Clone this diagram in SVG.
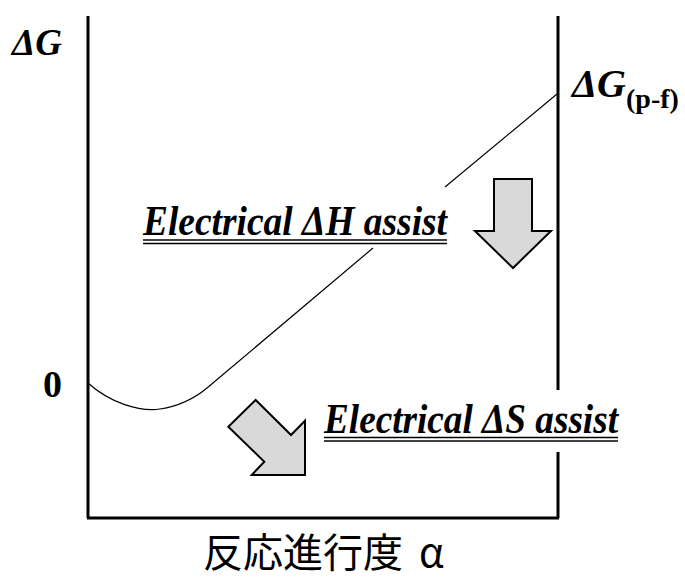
<svg xmlns="http://www.w3.org/2000/svg" width="685" height="581" viewBox="0 0 685 581">
<style>
.ax{stroke:#000;stroke-width:3;fill:none}
.cv{stroke:#000;stroke-width:1.2;fill:none}
.lbl{font-family:"Liberation Serif","Times New Roman",serif;font-weight:bold;font-style:italic;fill:#000}
.num{font-family:"Liberation Serif","Times New Roman",serif;font-weight:bold;fill:#000}
.jp{font-family:"Noto Sans CJK JP","Noto Sans",sans-serif;fill:#000}
.ul{stroke:#000;stroke-width:1.3}
.arr{fill:#d9d9d9;stroke:#000;stroke-width:2;stroke-linejoin:miter}
</style>
<rect width="685" height="581" fill="#fff"/>
<g id="axes">
<line class="ax" x1="88" y1="16" x2="88" y2="518"/>
<line class="ax" x1="87" y1="518" x2="559" y2="518"/>
<line class="ax" x1="558" y1="16" x2="558" y2="390"/>
<line class="ax" x1="558" y1="452" x2="558" y2="518"/>
</g>
<g id="curve">
<path class="cv" d="M88,383 C110,403 140,412 160,409 C180,406 195,398 207,388 L373,248"/>
<path class="cv" d="M445,187 L557,94"/>
</g>
<g id="labels">
<text class="lbl" x="12" y="55" font-size="37">ΔG</text>
<text class="num" x="43" y="397" font-size="38">0</text>
<text class="lbl" x="572" y="97" font-size="40">ΔG</text>
<text class="num" x="626" y="108" font-size="28">(p-f)</text>
<text class="jp" x="203" y="567" font-size="40">反応進行度<tspan x="419">α</tspan></text>
</g>
<g id="dH">
<text class="lbl" x="143" y="235" font-size="42" textLength="304" lengthAdjust="spacingAndGlyphs">Electrical ΔH assist</text>
<line class="ul" x1="143" y1="240" x2="447" y2="240"/>
<line class="ul" x1="143" y1="243.5" x2="447" y2="243.5"/>
<polygon class="arr" points="494,179 532,179 532,231 551,231 513,268 475,231 494,231"/>
</g>
<g id="dS">
<text class="lbl" x="324" y="433" font-size="42" textLength="294" lengthAdjust="spacingAndGlyphs">Electrical ΔS assist</text>
<line class="ul" x1="324" y1="437.5" x2="618" y2="437.5"/>
<line class="ul" x1="324" y1="441" x2="618" y2="441"/>
<polygon class="arr" points="255.7,400 291,435 305,420.7 305,475 251.7,475 264.3,461.7 228.3,426.7"/>
</g>
</svg>
